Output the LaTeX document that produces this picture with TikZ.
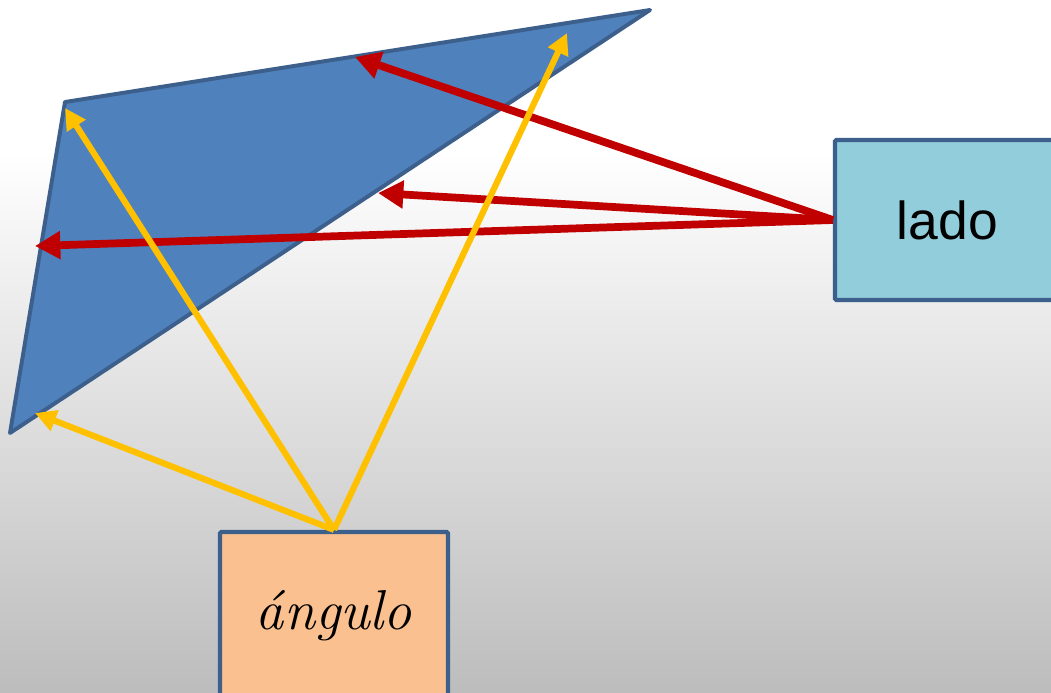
\documentclass[tikz,border=0pt]{standalone}
\usepackage{fontspec}
\newfontfamily\ladofont{Liberation Sans}
\usetikzlibrary{arrows.meta}
\definecolor{triblue}{HTML}{4F81BD}
\definecolor{edgeblue}{HTML}{3C5F8C}
\definecolor{ladofill}{HTML}{92CDDC}
\definecolor{angfill}{HTML}{FAC090}
\definecolor{redarrow}{HTML}{C00000}
\definecolor{yelarrow}{HTML}{FFC000}
\tikzset{
  box/.style={draw=edgeblue, line width=3pt, rounded corners=1pt, inner sep=0pt},
  ladoarrow/.style={draw=redarrow, line width=5.5pt, -{Triangle[length=18pt,width=19pt]}},
  angarrow/.style={draw=yelarrow, line width=4.4pt, -{Triangle[length=15pt,width=15pt]}}
}
\begin{document}
\begin{tikzpicture}[x=0.025cm,y=-0.025cm]
\useasboundingbox (0,0) rectangle (1051,692);
\fill[white] (0,0) rectangle (1051,150);
\shade[top color=white, bottom color=black!26] (0,150) rectangle (1051,692);
\coordinate (tA) at (65,102);
\coordinate (tB) at (650,10);
\coordinate (tC) at (10,433);
\filldraw[fill=triblue, draw=edgeblue, line width=2.8pt, line join=round] (tA) -- (tB) -- (tC) -- cycle;
\node[box, fill=ladofill, minimum width=5.625cm, minimum height=4cm] (lado) at (947.5,220) {};
\node[box, fill=angfill, minimum width=5.7cm, minimum height=4.2cm] (angulo) at (334,616) {};
\node at (lado.center) {\ladofont\fontsize{38}{40}\selectfont lado};
\node at (angulo.center) {\itshape\fontsize{40}{44}\selectfont ángulo};
\coordinate (r1) at (355,57);
\coordinate (r2) at (378,193);
\coordinate (r3) at (35,246);
\coordinate (y1) at (65,108);
\coordinate (y2) at (567,33);
\coordinate (y3) at (35,413);
\draw[ladoarrow] (lado.west) -- (r1);
\draw[ladoarrow] (lado.west) -- (r2);
\draw[ladoarrow] (lado.west) -- (r3);
\draw[angarrow] (angulo.north) -- (y1);
\draw[angarrow] (angulo.north) -- (y2);
\draw[angarrow] (angulo.north) -- (y3);
\end{tikzpicture}
\end{document}
